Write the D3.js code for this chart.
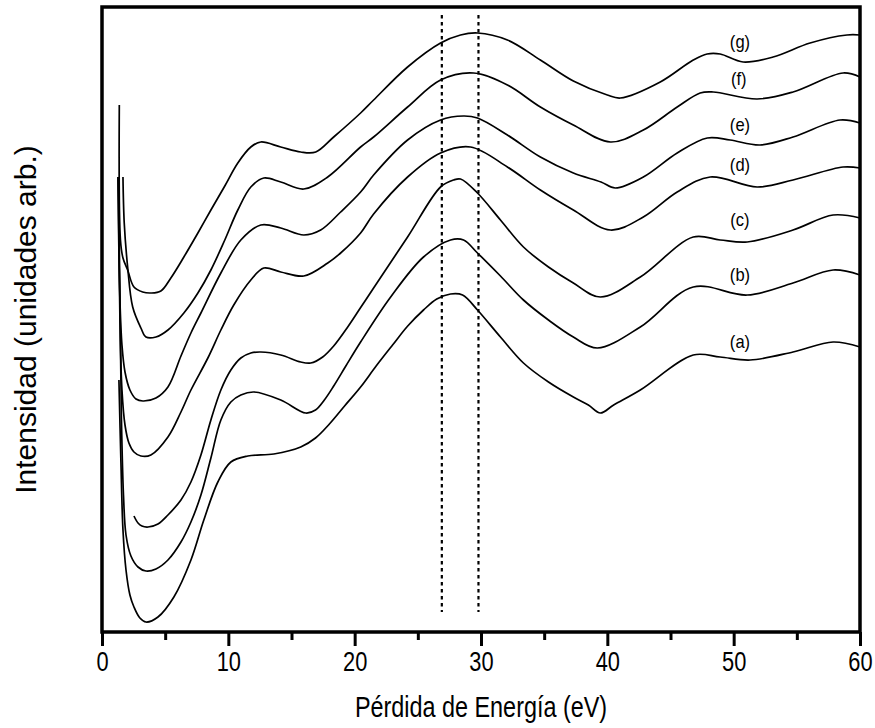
<!DOCTYPE html>
<html>
<head>
<meta charset="utf-8">
<script src="https://cdn.jsdelivr.net/npm/d3@7"></script>
<style>
  html, body { margin: 0; padding: 0; background: #fff; }
  svg { display: block; }
  text { font-family: "Liberation Sans", Arial, Helvetica, sans-serif; fill: #000; }
</style>
</head>
<body>
<svg id="chart" width="875" height="728"></svg>
<script>
// ---- Data (energy loss in eV, intensity in arbitrary units) ----
const energyA = [1.34,1.50,1.66,1.90,2.21,2.53,3.00,3.48,4.43,5.69,7.04,8.06,9.17,10.20,11.54,13.60,15.73,16.90,18.00,19.20,20.47,21.70,23.00,24.20,25.45,26.50,27.59,28.54,29.72,31.54,33.36,35.34,37.31,38.50,39.45,40.50,42.61,46.80,48.93,51.30,54.70,57.87,60.00];
const intensityA = [25.2,16.9,10.2,6.2,3.7,2.5,1.4,1.0,1.5,3.5,7.2,11.2,15.0,17.0,17.6,17.8,18.5,19.4,20.8,22.6,24.5,26.6,28.7,30.6,32.2,33.3,33.8,33.7,32.2,29.5,26.9,25.0,23.5,22.7,21.9,22.7,24.2,27.7,27.5,27.2,28.0,29.0,28.5];

const energyB = [1.31,1.42,1.54,1.70,1.90,2.29,2.85,3.48,4.27,5.22,6.25,7.04,7.83,8.62,9.41,10.20,10.99,12.02,14.15,16.13,16.90,17.60,18.34,19.30,20.47,22.85,25.45,27.59,28.62,29.72,31.54,33.36,35.34,37.31,39.21,42.61,46.80,51.07,54.70,57.87,60.00];
const intensityB = [45.5,33.2,21.2,13.7,9.7,7.6,6.5,6.1,6.3,7.2,9.0,11.0,13.7,17.4,21.2,23.0,23.7,24.0,23.2,21.9,22.2,23.2,24.6,26.6,29.0,33.5,37.5,39.2,39.2,37.9,35.6,33.2,31.2,29.5,28.4,30.5,34.5,33.7,34.9,36.2,35.7];

const energyC = [2.53,2.85,3.16,3.64,4.43,5.22,6.25,7.04,7.83,8.62,9.41,10.20,10.99,11.78,12.57,14.15,15.73,16.52,17.47,18.34,19.45,20.50,21.50,24.19,26.80,27.83,28.38,29.72,31.54,33.36,35.34,37.31,39.45,42.61,46.80,48.93,51.07,54.70,57.87,60.00];
const intensityC = [11.6,10.9,10.6,10.5,10.8,11.7,13.2,15.0,17.7,21.2,24.2,26.2,27.4,27.9,28.0,27.7,27.0,26.9,27.5,28.6,30.5,32.5,34.4,39.5,44.5,45.2,45.3,43.9,41.2,38.5,36.5,34.9,33.5,35.5,39.5,39.2,39.0,40.2,41.7,41.4];

const energyD = [1.29,1.42,1.58,1.82,2.13,2.53,3.08,3.87,5.22,6.25,7.04,8.38,9.41,10.43,11.78,12.81,14.15,15.97,17.87,18.89,20.47,21.50,24.19,26.80,29.17,32.09,34.70,37.31,40.24,42.85,45.53,48.14,51.86,54.70,58.66,60.00];
const intensityD = [45.5,31.2,24.2,20.7,18.9,18.0,17.6,17.7,19.5,22.0,24.2,27.4,30.2,32.7,35.2,36.4,36.0,35.6,36.9,37.9,39.9,41.8,45.5,47.9,48.5,46.5,44.2,42.2,40.2,41.5,44.0,45.5,44.5,45.2,46.5,46.4];

const energyE = [1.26,1.42,1.58,1.82,2.21,2.69,3.24,4.27,5.22,6.25,7.04,7.83,9.41,10.99,12.57,14.15,15.97,17.31,18.89,20.47,21.50,24.19,26.80,28.62,29.72,32.09,34.70,37.31,39.50,40.63,42.85,45.53,47.91,49.72,52.09,54.70,58.42,60.00];
const intensityE = [45.5,33.2,28.7,26.0,24.2,23.3,23.1,23.4,24.5,27.6,29.9,31.9,35.9,39.2,40.7,40.4,39.7,40.2,42.0,44.0,45.7,49.2,51.2,51.6,51.4,49.7,47.5,45.9,45.0,44.4,45.5,47.9,49.4,49.2,48.7,49.5,51.2,50.9];

const energyF = [1.66,1.76,2.03,2.43,3.08,3.48,4.27,5.22,6.48,7.59,8.62,9.72,10.75,11.78,12.81,14.15,15.97,17.87,20.47,21.50,24.19,26.80,29.41,32.09,34.70,37.31,40.24,42.85,45.53,47.35,48.38,51.86,54.70,58.66,60.00];
const intensityF = [45.5,40.9,36.5,32.5,30.4,29.5,29.5,30.2,31.9,33.9,36.2,39.2,42.2,44.5,45.4,45.0,44.3,45.5,48.5,49.5,52.5,55.2,55.9,54.7,52.5,50.7,49.0,50.2,52.5,53.9,54.0,53.3,54.0,55.9,55.5];

const energyG = [1.37,1.46,1.66,2.03,2.53,3.22,3.87,4.66,5.45,6.48,7.59,8.62,9.72,10.75,11.78,12.57,14.15,15.73,16.92,18.34,20.47,21.50,24.19,26.80,28.38,29.72,32.09,34.70,37.31,40.00,41.03,44.19,46.80,47.90,48.93,50.75,53.12,56.05,58.97,60.00];
const intensityG = [52.7,39.2,37.4,36.2,34.5,34.0,33.9,34.1,35.4,37.5,39.9,42.2,44.6,46.9,48.5,49.0,48.5,48.0,48.0,49.5,51.9,53.2,56.5,58.9,59.7,59.9,59.2,57.2,55.1,53.7,53.4,55.0,57.2,57.8,57.8,57.0,57.5,58.9,59.7,59.7];

const seriesNames = ["(a)","(b)","(c)","(d)","(e)","(f)","(g)"];
const labelEnergy = [50.5,50.5,50.5,50.5,50.5,50.4,50.5];
const labelIntensity = [29.0,35.7,41.2,46.7,50.7,55.3,59.0];

const xMajorTicks = [0,10,20,30,40,50,60];
const xMinorTicks = [5,15,25,35,45,55];
const markerEnergies = [26.9,29.8];
const markerRange = [2.0,61.7];

const xTitle = "Pérdida de Energía (eV)";
const yTitle = "Intensidad (unidades arb.)";

// ---- Layout ----
const svg = d3.select("#chart");
const L = 102, R = 860, T = 7, B = 632;
const x = d3.scaleLinear().domain([0,60]).range([L,R]);
const y = d3.scaleLinear().domain([0,62.5]).range([B,T]);

svg.append("rect").attr("width",875).attr("height",728).attr("fill","#fff");

const energies = [energyA,energyB,energyC,energyD,energyE,energyF,energyG];
const intensities = [intensityA,intensityB,intensityC,intensityD,intensityE,intensityF,intensityG];
const series = seriesNames.map((n,i) => ({
  name: n,
  points: energies[i].map((e,j) => [e, intensities[i][j]]),
  lx: labelEnergy[i], ly: labelIntensity[i]
}));

// dotted markers
svg.selectAll("line.marker").data(markerEnergies).join("line")
  .attr("class","marker")
  .attr("x1",d=>x(d)).attr("x2",d=>x(d))
  .attr("y1",y(markerRange[1])).attr("y2",y(markerRange[0]))
  .attr("stroke","#000").attr("stroke-width",2.2)
  .attr("stroke-dasharray","3.5,3.5");

// curves
const line = d3.line().x(d=>x(d[0])).y(d=>y(d[1])).curve(d3.curveCatmullRom.alpha(0.5));
svg.selectAll("path.spec").data(series).join("path")
  .attr("class","spec")
  .attr("d",d=>line(d.points))
  .attr("fill","none").attr("stroke","#000").attr("stroke-width",1.7)
  .attr("stroke-linejoin","round");

// curve labels
svg.selectAll("text.lab").data(series).join("text")
  .attr("class","lab")
  .attr("transform",d=>`translate(${x(d.lx)},${y(d.ly)}) scale(0.92,1)`)
  .attr("text-anchor","middle").attr("dominant-baseline","central")
  .style("font-size","18px")
  .text(d=>d.name);

// x axis with major + minor ticks
const axMajor = d3.axisBottom(x).tickValues(xMajorTicks).tickSize(14).tickPadding(5).tickFormat(d3.format("d"));
const gMaj = svg.append("g").attr("transform",`translate(0,${B})`).call(axMajor);
gMaj.select(".domain").remove();
gMaj.selectAll(".tick line").attr("stroke","#000").attr("stroke-width",3);
gMaj.selectAll(".tick text")
  .style("font-size","28px")
  .style("font-family","'Liberation Sans', Arial, sans-serif")
  .attr("fill","#000")
  .attr("transform","scale(0.78,1)");

const axMinor = d3.axisBottom(x).tickValues(xMinorTicks).tickSize(8).tickFormat("");
const gMin = svg.append("g").attr("transform",`translate(0,${B})`).call(axMinor);
gMin.select(".domain").remove();
gMin.selectAll(".tick line").attr("stroke","#000").attr("stroke-width",3);

// frame
svg.append("rect").attr("x",L).attr("y",T).attr("width",R-L).attr("height",B-T)
  .attr("fill","none").attr("stroke","#000").attr("stroke-width",3.5);

// titles
svg.append("text")
  .attr("transform",`translate(${(L+R)/2},717) scale(0.78,1)`)
  .attr("text-anchor","middle").style("font-size","30px").text(xTitle);

svg.append("text")
  .attr("transform",`translate(36,${(T+B)/2}) rotate(-90)`)
  .attr("text-anchor","middle").style("font-size","30px").text(yTitle);
</script>
</body>
</html>
